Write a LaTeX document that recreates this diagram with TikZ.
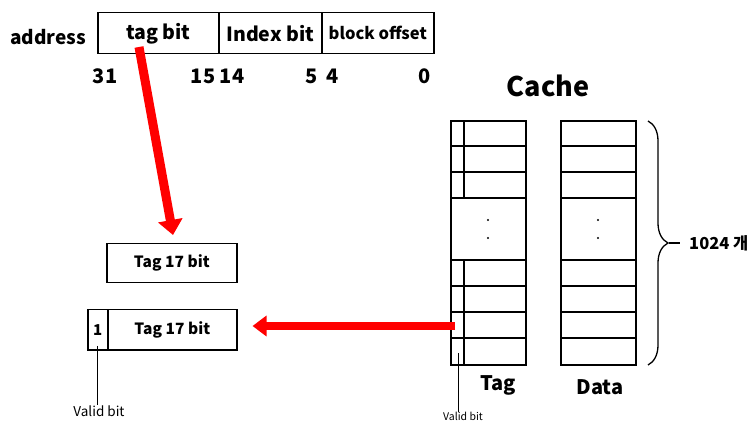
\documentclass[tikz,border=0pt]{standalone}
\usepackage{fontspec}
\setmainfont{Noto Sans CJK KR}
\usetikzlibrary{arrows.meta,decorations.pathreplacing,positioning,calc}
\begin{document}
\begin{tikzpicture}[x=1pt,y=-1pt,
  cell/.style={draw,line width=1.5pt,inner sep=0pt,anchor=north west,font=\bfseries},
  lbl/.style={inner sep=0pt,font=\bfseries\fontsize{19}{20}\selectfont},
  num/.style={inner sep=0pt,font=\bfseries\fontsize{20}{20}\selectfont},
  redarrow/.style={draw=red,line width=9pt,-{Triangle[length=15pt,width=24pt]}},
  grid/.style={line width=1.5pt},
  thinline/.style={line width=0.8pt}]
\useasboundingbox (0,0) rectangle (747,438);
% address
\node[lbl] (addr) at (48,37) {address};
\node[cell,minimum width=121pt,minimum height=41pt,font=\bfseries\fontsize{19.5}{20}\selectfont] (tagcell) at (97,12) {tag bit};
\node[cell,minimum width=103pt,minimum height=41pt,font=\bfseries\fontsize{19.5}{20}\selectfont] (idxcell) at (218,12) {Index bit};
\node[cell,minimum width=112pt,minimum height=41pt,font=\bfseries\fontsize{16.5}{17}\selectfont] (offcell) at (321,12) {block offset};
\node[num] (n31) at (105,76) {31};
\node[num] (n15) at (203,76) {15};
\node[num] (n14) at (232,76) {14};
\node[num] (n5) at (312,76) {5};
\node[num] (n4) at (333,76) {4};
\node[num] (n0) at (425,76) {0};
% tag boxes
\node[cell,minimum width=130pt,minimum height=39pt,font=\bfseries\fontsize{15.5}{16}\selectfont] (tag1) at (106,243) {Tag 17 bit};
\node[cell,minimum width=20pt,minimum height=40pt,font=\bfseries\fontsize{15}{16}\selectfont] (vbox) at (87,309) {1};
\node[cell,minimum width=129pt,minimum height=40pt,font=\bfseries\fontsize{15.5}{16}\selectfont] (tag2) at (107,309) {Tag 17 bit};
\node[inner sep=0pt,font=\fontsize{13.5}{14}\selectfont] (vlabel1) at (99,411) {Valid bit};
\draw[thinline] (vbox.center) ++(0,16) coordinate (v1s) -- (vlabel1.north -| v1s);
% cache
\node[inner sep=0pt,font=\bfseries\fontsize{27}{28}\selectfont] (cachet) at (548,86) {Cache};
\draw[grid] (451,121) rectangle (526,365);
\draw[grid] (561,121) rectangle (636,365);
\foreach \y in {146,172,198,260,286,312,338} {
  \draw[grid] (451,\y) -- (526,\y);
  \draw[grid] (561,\y) -- (636,\y);
}
\draw[grid] (464,121) -- (464,198);
\draw[grid] (464,260) -- (464,365);
\foreach \x in {488,598} {
  \fill (\x,220) circle (1.2pt);
  \fill (\x,238) circle (1.2pt);
}
\node[lbl,font=\bfseries\fontsize{20}{20}\selectfont] (tagl) at (498,385) {Tag};
\node[lbl,font=\bfseries\fontsize{20}{20}\selectfont] (datal) at (600,387) {Data};
\node[inner sep=0pt,font=\fontsize{10.5}{11}\selectfont] (vlabel2) at (463,416) {Valid bit};
\coordinate (v2s) at (458.3,353);
\draw[thinline] (v2s) -- (v2s |- vlabel2.north);
% brace
\draw[line width=1.3pt,decorate,decoration={brace,amplitude=20pt,aspect=0.5}] (648,121) -- (648,365);
\coordinate (btip) at (669,243);
\node[inner sep=0pt,anchor=west,font=\bfseries\fontsize{16.5}{17}\selectfont] (cnt) at (689,243) {1024 개};
\coordinate (btail) at ($(cnt.west)+(-9,0)$);
\draw[line width=1.3pt] (btip) -- (btail);
% red arrows
\coordinate (a1s) at (139,47);
\coordinate (a1e) at (173,235);
\draw[redarrow] (a1s) -- (a1e);
\coordinate (a2s) at (455,326);
\coordinate (a2e) at ($(tag2.east)+(15,0)$);
\draw[redarrow,line width=8pt,-{Triangle[length=14pt,width=20pt]}] (a2s) -- (a2s -| a2e);
\end{tikzpicture}
\end{document}
